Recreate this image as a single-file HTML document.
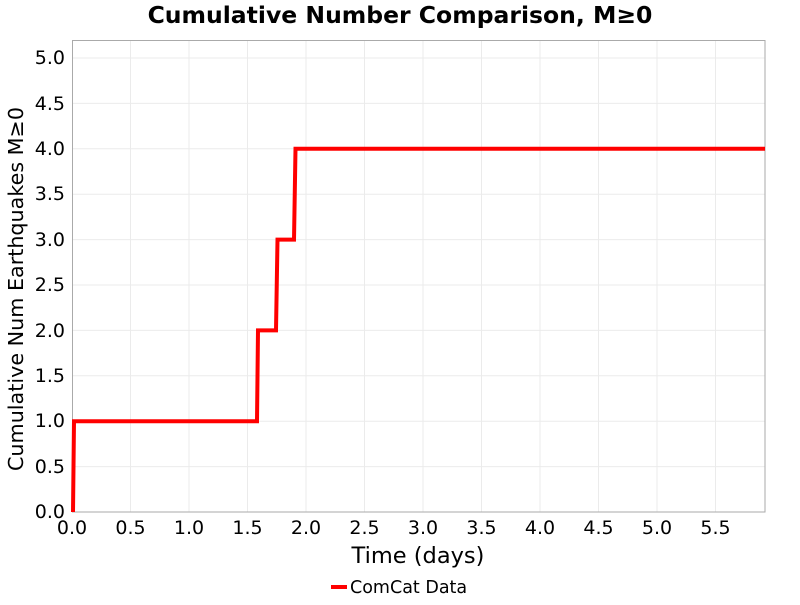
<!DOCTYPE html>
<html><head><style>html,body{margin:0;padding:0;background:#fff}</style></head><body>
<svg width="800" height="600" xmlns="http://www.w3.org/2000/svg" font-family="DejaVu Sans, Liberation Sans, sans-serif">
<rect width="800" height="600" fill="#fff"/>
<text x="400" y="23" text-anchor="middle" font-size="23.5" font-weight="bold">Cumulative Number Comparison, M≥0</text>
<g stroke="#ebebeb" stroke-width="1">
<line x1="130.5" y1="40" x2="130.5" y2="512"/><line x1="189" y1="40" x2="189" y2="512"/><line x1="247.5" y1="40" x2="247.5" y2="512"/><line x1="306" y1="40" x2="306" y2="512"/><line x1="364.5" y1="40" x2="364.5" y2="512"/><line x1="423" y1="40" x2="423" y2="512"/><line x1="481.5" y1="40" x2="481.5" y2="512"/><line x1="540" y1="40" x2="540" y2="512"/><line x1="598.5" y1="40" x2="598.5" y2="512"/><line x1="657" y1="40" x2="657" y2="512"/><line x1="715.5" y1="40" x2="715.5" y2="512"/>
<line x1="72" y1="466.6" x2="765" y2="466.6"/><line x1="72" y1="421.2" x2="765" y2="421.2"/><line x1="72" y1="375.8" x2="765" y2="375.8"/><line x1="72" y1="330.4" x2="765" y2="330.4"/><line x1="72" y1="285" x2="765" y2="285"/><line x1="72" y1="239.6" x2="765" y2="239.6"/><line x1="72" y1="194.2" x2="765" y2="194.2"/><line x1="72" y1="148.8" x2="765" y2="148.8"/><line x1="72" y1="103.4" x2="765" y2="103.4"/><line x1="72" y1="58" x2="765" y2="58"/>
</g>
<rect x="72.5" y="40.5" width="692.5" height="471.5" fill="none" stroke="#aaa" stroke-width="1"/>
<polyline fill="none" stroke="#ff0000" stroke-width="4" points="73,512 74,421.2 257,421.2 258,330.4 276,330.4 277.5,239.6 294,239.6 295.5,148.8 765,148.8"/>
<g font-size="19" text-anchor="end">
<text x="65" y="518">0.0</text><text x="65" y="473">0.5</text><text x="65" y="427">1.0</text><text x="65" y="382">1.5</text><text x="65" y="337">2.0</text><text x="65" y="291">2.5</text><text x="65" y="246">3.0</text><text x="65" y="200">3.5</text><text x="65" y="155">4.0</text><text x="65" y="110">4.5</text><text x="65" y="64">5.0</text>
</g>
<g font-size="19" text-anchor="middle">
<text x="72" y="534">0.0</text><text x="130.5" y="534">0.5</text><text x="189" y="534">1.0</text><text x="247.5" y="534">1.5</text><text x="306" y="534">2.0</text><text x="364.5" y="534">2.5</text><text x="423" y="534">3.0</text><text x="481.5" y="534">3.5</text><text x="540" y="534">4.0</text><text x="598.5" y="534">4.5</text><text x="657" y="534">5.0</text><text x="715.5" y="534">5.5</text>
</g>
<text x="418" y="563" text-anchor="middle" font-size="22.5">Time (days)</text>
<text transform="translate(23,289) rotate(-90)" text-anchor="middle" font-size="20.7">Cumulative Num Earthquakes M≥0</text>
<line x1="331" y1="587" x2="347" y2="587" stroke="#ff0000" stroke-width="4"/>
<text x="350" y="593" font-size="17.5">ComCat Data</text>
</svg>
</body></html>
